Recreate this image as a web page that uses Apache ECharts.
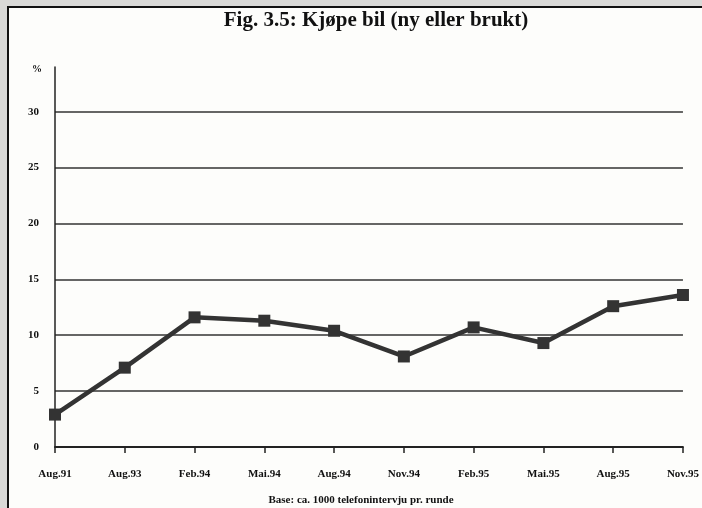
<!DOCTYPE html>
<html>
<head>
<meta charset="utf-8">
<script src="https://cdn.jsdelivr.net/npm/echarts@6/dist/echarts.min.js"></script>
<style>
  html, body { margin: 0; padding: 0; background: #d9d9d7; }
  #chart { width: 702px; height: 508px; }
</style>
</head>
<body>
<div id="chart"></div>
<script>
// data
var categories = ['Aug.91', 'Aug.93', 'Feb.94', 'Mai.94', 'Aug.94', 'Nov.94', 'Feb.95', 'Mai.95', 'Aug.95', 'Nov.95'];
var values = [2.9, 7.1, 11.6, 11.3, 10.4, 8.1, 10.7, 9.3, 12.6, 13.6];
var yTicks = [0, 5, 10, 15, 20, 25, 30];

var serif = 'Liberation Serif, Times New Roman, serif';
var chart = echarts.init(document.getElementById('chart'));

var option = {
  backgroundColor: '#d9d9d7',
  animation: false,
  graphic: [
    { // paper frame
      type: 'rect',
      shape: { x: 8, y: 7, width: 700, height: 510 },
      style: { fill: '#fdfdfb', stroke: '#111', lineWidth: 2 },
      z: -10
    }
  ],
  title: [
    {
      text: 'Fig. 3.5: Kjøpe bil (ny eller brukt)',
      left: 371, top: 5, textAlign: 'center',
      textStyle: { fontFamily: serif, fontWeight: 'bold', fontSize: 21, color: '#111' }
    },
    {
      text: 'Base: ca. 1000 telefonintervju pr. runde',
      left: 356, top: 490, textAlign: 'center',
      textStyle: { fontFamily: serif, fontWeight: 'bold', fontSize: 11, color: '#111' }
    },
    {
      text: '%',
      left: 27, top: 59,
      textStyle: { fontFamily: serif, fontWeight: 'bold', fontSize: 10, color: '#111' }
    }
  ],
  grid: { left: 55, right: 16, top: 67, bottom: 61 },
  xAxis: {
    type: 'category',
    data: categories,
    boundaryGap: false,
    axisLine: { lineStyle: { color: '#222', width: 2 } },
    axisTick: { show: true, length: 6, inside: false, lineStyle: { color: '#222', width: 1.5 } },
    axisLabel: {
      margin: 22, color: '#111', fontFamily: serif, fontWeight: 'bold', fontSize: 11,
      interval: 0
    },
    splitLine: { show: false }
  },
  yAxis: {
    type: 'value',
    min: 0, max: 34, interval: 5,
    axisLine: { show: true, lineStyle: { color: '#222', width: 1.5 } },
    axisTick: { show: false },
    axisLabel: {
      margin: 16, color: '#111', fontFamily: serif, fontWeight: 'bold', fontSize: 11,
      formatter: function (v) { return yTicks.indexOf(v) >= 0 ? String(v) : ''; }
    },
    splitLine: { show: true, showMaxLine: false, lineStyle: { color: '#333', width: 1.5 } }
  },
  series: [
    {
      type: 'line',
      data: values,
      symbol: 'rect',
      symbolSize: 12,
      lineStyle: { color: '#333', width: 4.5 },
      itemStyle: { color: '#333' },
      z: 5
    }
  ]
};
chart.setOption(option);
</script>
</body>
</html>
